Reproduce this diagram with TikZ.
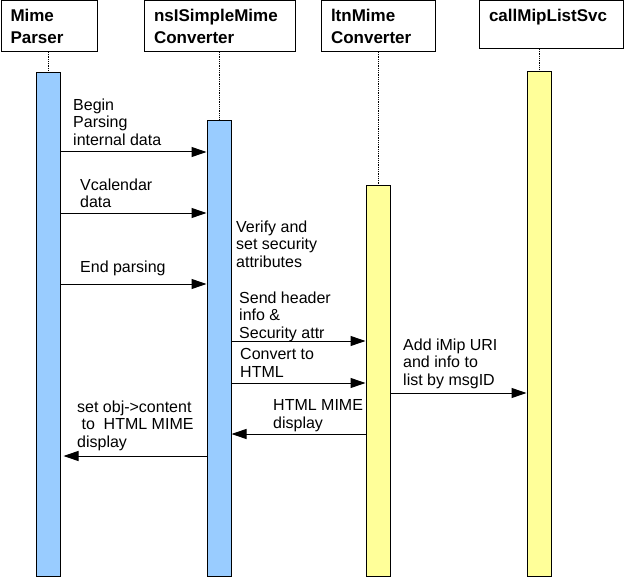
\documentclass[tikz,border=0pt]{standalone}
\usepackage{fontspec}
\setmainfont{Liberation Sans}
\usetikzlibrary{calc,arrows.meta}

\definecolor{barblue}{HTML}{99CCFF}
\definecolor{baryellow}{HTML}{FFFF99}

\tikzset{
  head/.style={draw, line width=1pt, anchor=north west, inner xsep=9.5pt, inner ysep=0pt,
    align=left, font=\fontsize{17pt}{21.5pt}\selectfont\bfseries},
  actbar/.style={draw, line width=1pt, anchor=north, minimum width=24pt, inner sep=0pt},
  lifeline/.style={line width=0.8pt, densely dotted},
  msgtext/.style={anchor=north west, inner sep=0pt, align=left,
    font=\fontsize{16pt}{17.5pt}\selectfont},
  msg/.style={line width=1pt, -{Triangle[length=15pt,width=10pt]}}
}

\begin{document}
\begin{tikzpicture}[x=1pt, y=-1pt]
    \useasboundingbox (0,0) rectangle (625,578);

    % objects
    \node[head, text width=77pt, minimum height=50.5pt] (mp) at (0.5,0.5) {Mime\\Parser};
    \node[head, text width=132pt, minimum height=50.5pt] (ns) at (144,0.5) {nsISimpleMime\\Converter};
    \node[head, text width=95pt, minimum height=50.5pt] (ltn) at (321,0.5) {ltnMime\\Converter};
    \node[head, text width=125pt, minimum height=47.5pt, text height=12.5pt, text depth=19pt]
      (cmls) at (479,0.5) {callMipListSvc};

    % activation bars
    \node[actbar, fill=barblue, minimum height=504pt] (mp_bar) at (48,72) {};
    \node[actbar, fill=barblue, minimum height=456pt] (ns_bar) at (219,120) {};
    \node[actbar, fill=baryellow, minimum height=391pt] (ltn_bar) at (378,185) {};
    \node[actbar, fill=baryellow, minimum height=505pt] (cmls_bar) at (539,71) {};

    % lifelines
    \draw[lifeline] (mp_bar.north |- mp.south) -- (mp_bar.north);
    \draw[lifeline] (ns_bar.north |- ns.south) -- (ns_bar.north);
    \draw[lifeline] (ltn_bar.north |- ltn.south) -- (ltn_bar.north);
    \draw[lifeline] (cmls_bar.north |- cmls.south) -- (cmls_bar.north);

    % message heights
    \coordinate (y_begin) at (0,152);
    \coordinate (y_vcal) at (0,213);
    \coordinate (y_end) at (0,284);
    \coordinate (y_send) at (0,341);
    \coordinate (y_conv) at (0,383);
    \coordinate (y_add) at (0,393);
    \coordinate (y_html) at (0,434);
    \coordinate (y_set) at (0,456);

    % labels
    \node[msgtext] (l_begin) at (73,98.5) {Begin\\Parsing\\internal data};
    \node[msgtext] (l_vcal) at (80,178.5) {Vcalendar\\data};
    \node[msgtext] (l_end) at (80,260.5) {End parsing};
    \node[msgtext] (l_verify) at (236,220.5) {Verify and\\set security\\attributes};
    \node[msgtext] (l_send) at (239,291.5) {Send header\\info \&\\Security attr};
    \node[msgtext] (l_conv) at (240,348.5) {Convert to\\HTML};
    \node[msgtext] (l_add) at (403,338.5) {Add iMip URI\\and info to\\list by msgID};
    \node[msgtext] (l_html) at (273,399.5) {HTML MIME\\display};
    \node[msgtext] (l_set) at (77,400.5) {set obj->content\\\hspace*{4.4pt}to\hspace*{8.8pt}HTML MIME\\display};

    % messages
    \draw[msg] (mp_bar.east |- y_begin) -- (ns_bar.west |- y_begin);
    \draw[msg] (mp_bar.east |- y_vcal) -- (ns_bar.west |- y_vcal);
    \draw[msg] (mp_bar.east |- y_end) -- (ns_bar.west |- y_end);
    \draw[msg] (ns_bar.east |- y_send) -- (ltn_bar.west |- y_send);
    \draw[msg] (ns_bar.east |- y_conv) -- (ltn_bar.west |- y_conv);
    \draw[msg] (ltn_bar.east |- y_add) -- (cmls_bar.west |- y_add);
    \draw[msg] (ltn_bar.west |- y_html) -- (ns_bar.east |- y_html);
    \draw[msg, shorten >=3pt] (ns_bar.west |- y_set) -- (mp_bar.east |- y_set);

\end{tikzpicture}
\end{document}
